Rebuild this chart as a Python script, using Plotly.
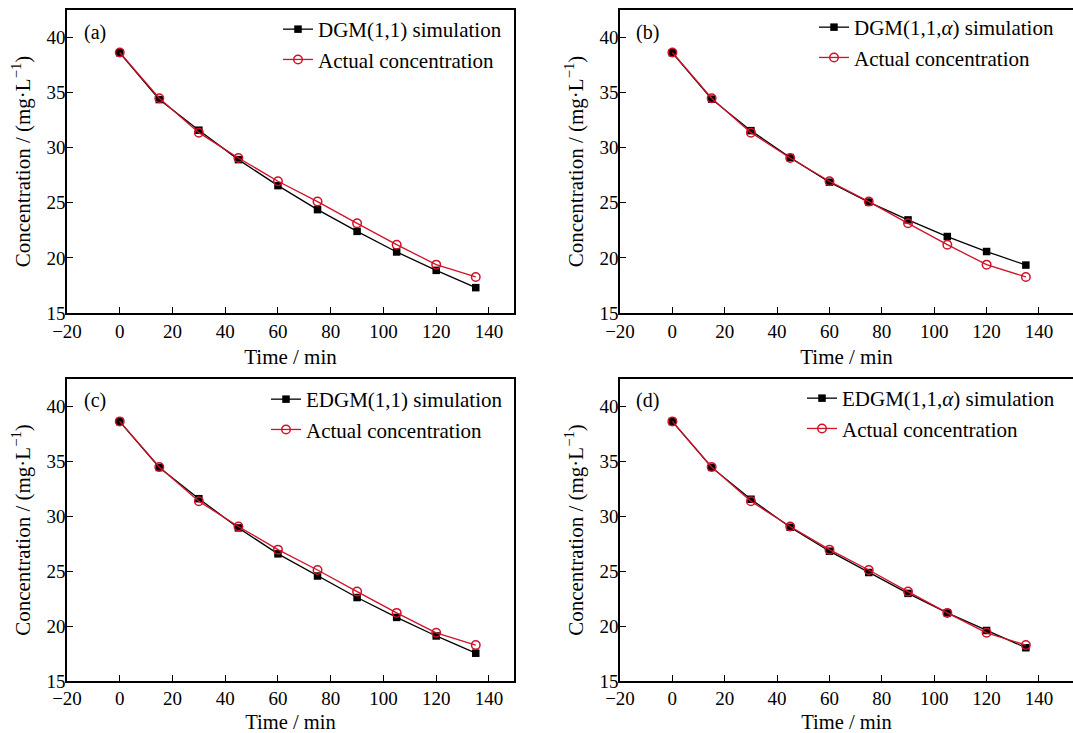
import plotly.graph_objects as go

time_min = [0, 15, 30, 45, 60, 75, 90, 105, 120, 135]
actual = [38.64, 34.49, 31.37, 29.07, 26.96, 25.11, 23.14, 21.20, 19.39, 18.27]
dgm = [38.62, 34.37, 31.59, 28.92, 26.56, 24.38, 22.41, 20.54, 18.87, 17.30]
dgm_alpha = [38.62, 34.41, 31.55, 29.10, 26.87, 25.07, 23.45, 21.94, 20.58, 19.35]
edgm = [38.62, 34.44, 31.60, 28.94, 26.58, 24.56, 22.60, 20.79, 19.10, 17.53]
edgm_alpha = [38.62, 34.45, 31.55, 29.00, 26.82, 24.88, 22.98, 21.20, 19.60, 18.03]

sim_names = ["DGM(1,1) simulation", "DGM(1,1,<i>α</i>) simulation",
             "EDGM(1,1) simulation", "EDGM(1,1,<i>α</i>) simulation"]
sim_series = [dgm, dgm_alpha, edgm, edgm_alpha]
panel_labels = ["(a)", "(b)", "(c)", "(d)"]
x_ticks = [-20, 0, 20, 40, 60, 80, 100, 120, 140]
y_ticks = [15, 20, 25, 30, 35, 40]

W, H = 1073, 733
FONT = "Liberation Serif"
RED = "#d01128"

# pixel boxes: left, right, top, bottom
boxes = [(67, 514, 10, 313), (620, 1073, 10, 313), (67, 514, 379, 681), (620, 1073, 379, 681)]
x_ranges = [[-20, 149.5], [-20, 153], [-20, 149.5], [-20, 153]]
legend_pos = [(278, 9), (814, 7), (266, 379), (802, 378)]

fig = go.Figure()
for i in range(4):
    ax = "" if i == 0 else str(i + 1)
    lg = "legend" if i == 0 else f"legend{i+1}"
    fig.add_trace(go.Scatter(x=time_min, y=sim_series[i], mode="lines+markers",
                             name=sim_names[i], xaxis="x" + ax, yaxis="y" + ax, legend=lg,
                             line=dict(color="black", width=1.3),
                             marker=dict(symbol="square", size=7.5, color="black")))
    fig.add_trace(go.Scatter(x=time_min, y=actual, mode="lines+markers",
                             name="Actual concentration", xaxis="x" + ax, yaxis="y" + ax, legend=lg,
                             line=dict(color=RED, width=1.3),
                             marker=dict(symbol="circle-open", size=8.5, color=RED, line=dict(width=1.5))))

layout = dict(template="none", width=W, height=H, margin=dict(l=0, r=0, t=0, b=0, autoexpand=False),
              paper_bgcolor="white", plot_bgcolor="white",
              font=dict(family=FONT, size=19, color="black"), showlegend=True)
annotations = []
for i, (l, r, t, b) in enumerate(boxes):
    ax = "" if i == 0 else str(i + 1)
    xd = [l / W, r / W]
    yd = [1 - b / H, 1 - t / H]
    right_panel = i in (1, 3)
    bottom_panel = i in (2, 3)
    layout["xaxis" + ax] = dict(domain=xd, anchor="y" + ax, range=x_ranges[i], automargin=False,
                                tickvals=x_ticks, ticktext=[("−20" if v == -20 else str(v)) for v in x_ticks],
                                ticks="inside", ticklen=6, tickwidth=1.2, tickcolor="black",
                                showline=True, linecolor="black", linewidth=1.5, mirror=True,
                                showgrid=False, zeroline=False,
                                ticklabelstandoff=(-1 if bottom_panel else 0),
                                tickfont=dict(family=FONT, size=19, color="black"),
                                title=dict(text="Time / min",
                                           font=dict(family=FONT, size=(20.5 if bottom_panel else 21), color="black"),
                                           standoff=9))
    layout["yaxis" + ax] = dict(domain=yd, anchor="x" + ax, range=[15, 42.5], automargin=False,
                                tickvals=y_ticks, ticks="inside", ticklen=6, tickwidth=1.2, tickcolor="black",
                                showline=True, linecolor="black", linewidth=1.5,
                                mirror=(False if right_panel else True),
                                showgrid=False, zeroline=False, ticklabelstandoff=-4,
                                tickfont=dict(family=FONT, size=19, color="black"),
                                title=dict(text="Concentration / (mg·L<sup>−1</sup>)",
                                           font=dict(family=FONT, size=21, color="black"), standoff=10))
    lg = "legend" if i == 0 else f"legend{i+1}"
    lx, ly = legend_pos[i]
    layout[lg] = dict(x=lx / W, xanchor="left", y=1 - ly / H, yanchor="top",
                      bgcolor="rgba(0,0,0,0)", borderwidth=0,
                      font=dict(family=FONT, size=21, color="black"),
                      tracegroupgap=0, itemwidth=30)
    annotations.append(dict(text=panel_labels[i], x=-14.5, y=40.5, xref="x" + ax, yref="y" + ax,
                            xanchor="left", yanchor="middle", showarrow=False,
                            font=dict(family=FONT, size=20, color="black")))
layout["annotations"] = annotations
fig.update_layout(**layout)
fig.write_html("out.html", config={"displayModeBar": False},
               post_script="document.body.style.margin='0';document.body.style.overflow='hidden';")
